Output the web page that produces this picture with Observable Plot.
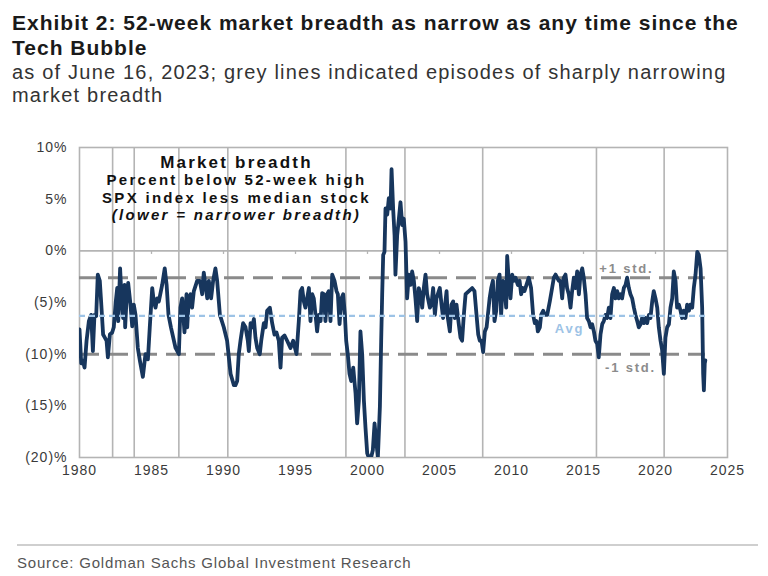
<!DOCTYPE html>
<html><head><meta charset="utf-8">
<script src="https://cdn.jsdelivr.net/npm/d3@7"></script>
<script src="https://cdn.jsdelivr.net/npm/@observablehq/plot@0.6"></script>
<style>
body{margin:0;background:#fff;width:768px;height:576px;position:relative;overflow:hidden;font-family:"Liberation Sans",Arial,sans-serif;}
#title{position:absolute;left:12px;top:10px;font-size:21px;font-weight:bold;line-height:25px;letter-spacing:1px;color:#1a1a1a;white-space:nowrap;}
#subtitle{position:absolute;left:12px;top:61px;font-size:20px;line-height:23px;letter-spacing:1.2px;color:#333;white-space:nowrap;}
#chart{position:absolute;left:0;top:130px;}
#rule{position:absolute;left:17px;top:544px;width:741px;height:0;border-top:2px solid #cfcfcf;}
#source{position:absolute;left:17px;top:554px;font-size:15px;letter-spacing:0.8px;color:#555;white-space:nowrap;}
#chart svg text{letter-spacing:1px;}
</style></head>
<body>
<div id="title">Exhibit 2: 52-week market breadth as narrow as any time since the<br>Tech Bubble</div>
<div id="subtitle">as of June 16, 2023; grey lines indicated episodes of sharply narrowing<br>market breadth</div>
<div id="chart"></div>
<div id="rule"></div>
<div id="source">Source: Goldman Sachs Global Investment Research</div>
<script>
// weekly-ish readings (decimal year, percent)
const years = [
1980.00,1980.12,1980.23,1980.35,1980.49,1980.65,1980.81,1980.93,1981.04,1981.16,1981.27,1981.41,1981.50,1981.64,1981.76,1981.88,1981.97,1982.11,1982.27,1982.38,1982.52,1982.62,1982.69,1982.82,1982.92,1983.03,1983.13,1983.17,1983.26,1983.38,1983.54,1983.66,1983.77,1983.89,1984.05,1984.19,1984.40,1984.58,1984.75,1984.88,1985.05,1985.16,1985.28,1985.39,1985.51,1985.74,1985.92,1986.05,1986.18,1986.35,1986.67,1986.90,1987.01,1987.13,1987.29,1987.43,1987.48,1987.59,1987.71,1987.82,1987.94,1988.17,1988.36,1988.52,1988.63,1988.87,1988.98,1989.14,1989.28,1989.44,1989.56,1989.75,1990.02,1990.25,1990.49,1990.72,
1990.83,1990.95,1991.06,1991.18,1991.36,1991.53,1991.69,1991.76,1991.88,1991.99,1992.11,1992.22,1992.34,1992.52,1992.62,1992.80,1992.92,1993.03,1993.22,1993.38,1993.54,1993.68,1993.84,1993.96,1994.07,1994.24,1994.42,1994.65,1994.84,1995.07,1995.23,1995.35,1995.46,1995.58,1995.69,1995.81,1995.93,1996.04,1996.16,1996.27,1996.39,1996.50,1996.62,1996.74,1996.85,1996.97,1997.08,1997.20,1997.31,1997.43,1997.55,1997.71,1997.85,1997.94,1998.06,1998.19,1998.31,1998.43,1998.52,1998.63,1998.75,1998.87,1999.01,1999.17,1999.28,1999.40,1999.51,1999.63,1999.75,1999.86,1999.98,2000.09,2000.25,2000.37,2000.49,2000.60,2000.72,2000.86,2000.95,2001.02,2001.09,2001.18,2001.25,2001.37,2001.48,2001.60,2001.67,2001.78,2001.88,2001.94,2002.06,2002.18,2002.29,2002.41,2002.52,2002.64,
2002.75,2002.87,2002.99,2003.10,2003.22,2003.33,2003.45,2003.56,2003.68,2003.80,2003.91,2004.03,2004.14,2004.33,2004.44,2004.56,2004.68,2004.79,2004.88,2005.02,2005.14,2005.25,2005.37,2005.49,2005.58,2005.72,2005.83,2005.95,2006.06,2006.18,2006.34,2006.46,2006.57,2006.69,2006.81,2007.04,2007.27,2007.43,2007.57,2007.69,2007.80,2007.92,2008.03,2008.15,2008.27,2008.36,2008.48,2008.59,2008.71,2008.82,2008.94,2009.05,2009.17,2009.28,2009.40,2009.51,2009.63,2009.70,2009.81,2009.93,2010.05,2010.16,2010.28,2010.44,2010.56,2010.67,2010.79,2010.90,2011.04,2011.20,2011.36,2011.50,2011.62,2011.74,2011.83,2011.97,2012.06,2012.20,2012.31,2012.48,2012.66,2012.82,2012.94,2013.06,2013.17,2013.29,2013.40,2013.52,2013.63,2013.75,2013.86,2013.98,2014.10,2014.21,2014.33,2014.44,2014.56,2014.68,2014.79,
2014.91,2015.02,2015.14,2015.25,2015.37,2015.49,2015.60,2015.72,2015.83,2015.95,2016.06,2016.18,2016.30,2016.41,2016.53,2016.64,2016.76,2016.87,2016.99,2017.11,2017.22,2017.34,2017.45,2017.57,2017.68,2017.80,2017.92,2018.03,2018.15,2018.26,2018.38,2018.50,2018.61,2018.73,2018.84,2018.96,2019.07,2019.19,2019.31,2019.42,2019.54,2019.65,2019.77,2019.88,2020.00,2020.12,2020.23,2020.35,2020.46,2020.58,2020.69,2020.81,2020.93,2021.04,2021.16,2021.27,2021.39,2021.50,2021.62,2021.74,2021.85,2021.97,2022.08,2022.20,2022.32,2022.43,2022.55,2022.66,2022.78,2022.90,2023.01,2023.13,2023.24,2023.31,2023.36,2023.42,2023.46
];
const breadth = [
-7.6,-10.9,-10.6,-11.3,-8.7,-6.8,-6.2,-9.7,-6.2,-6.3,-2.3,-2.9,-4.9,-8.1,-8.4,-8.7,-10.3,-8.1,-7.9,-7.4,-4.9,-3.6,-6.8,-1.7,-4.6,-6.5,-3.3,-7.4,-4.9,-3.1,-5.2,-7.3,-5.2,-6.2,-9.4,-10.6,-12.2,-10.0,-10.5,-7.4,-3.6,-4.9,-5.5,-4.6,-4.9,-3.3,-1.7,-3.3,-6.2,-7.4,-9.4,-10.0,-5.5,-4.6,-7.9,-4.2,-7.4,-4.6,-4.2,-5.5,-3.9,-2.9,-2.9,-4.2,-2.1,-4.6,-2.9,-4.6,-2.9,-1.7,-2.9,-6.2,-7.4,-8.7,-11.9,-13.0,
-13.0,-12.6,-10.0,-8.7,-7.0,-7.4,-8.7,-9.7,-7.0,-7.4,-6.6,-8.4,-9.4,-10.0,-8.7,-7.0,-7.4,-5.8,-5.5,-7.0,-8.1,-7.9,-8.7,-11.3,-8.4,-8.2,-8.7,-9.4,-8.7,-10.0,-6.8,-3.9,-3.6,-4.9,-5.5,-4.6,-3.6,-6.8,-4.2,-4.6,-6.2,-7.8,-6.2,-6.8,-4.1,-4.2,-6.8,-4.2,-3.9,-6.8,-2.3,-2.9,-3.9,-4.2,-7.1,-4.6,-4.2,-6.2,-8.7,-10.0,-11.9,-12.6,-11.3,-13.8,-16.7,-14.5,-7.8,-10.0,-14.5,-17.1,-19.6,-20.0,-20.0,-19.3,-16.7,-18.3,-20.0,-15.1,-8.7,-4.2,-0.4,-0.1,4.1,3.5,5.1,4.1,7.9,4.1,1.5,-2.3,1.5,3.1,4.7,2.5,3.1,0.9,
-4.6,-2.3,-3.3,-2.0,-2.9,-4.6,-6.8,-3.6,-4.2,-5.5,-3.6,-2.3,-4.2,-5.5,-5.2,-3.6,-6.2,-4.6,-4.2,-3.6,-5.2,-6.5,-5.5,-3.9,-6.5,-7.8,-5.2,-4.9,-6.5,-5.2,-7.1,-8.4,-8.7,-6.2,-4.2,-3.9,-3.6,-3.9,-6.2,-8.1,-8.7,-8.7,-9.8,-7.8,-7.4,-6.2,-4.6,-3.6,-2.9,-6.8,-5.8,-2.9,-2.3,-6.2,-2.9,-3.3,-5.5,-0.5,-2.9,-4.6,-2.3,-2.9,-2.6,-3.3,-2.9,-4.2,-3.6,-3.9,-3.3,-2.6,-3.6,-6.2,-7.0,-6.8,-7.8,-7.4,-6.2,-5.8,-6.2,-6.2,-4.9,-3.6,-2.6,-2.3,-2.6,-2.9,-2.9,-4.6,-2.6,-2.3,-3.6,-4.2,-5.5,-3.9,-2.6,-3.6,-2.0,-4.2,-2.3,
-1.7,-2.6,-4.2,-6.5,-6.8,-7.4,-7.1,-7.8,-8.7,-9.0,-10.3,-8.1,-7.1,-6.8,-6.2,-6.5,-5.5,-6.5,-4.2,-3.6,-4.6,-3.9,-4.6,-4.2,-4.6,-3.6,-3.3,-2.6,-3.6,-4.2,-4.6,-5.5,-6.2,-6.8,-7.4,-7.1,-6.5,-7.0,-6.5,-7.0,-6.2,-6.5,-4.9,-3.9,-4.6,-5.5,-7.4,-8.7,-9.6,-11.9,-8.4,-7.4,-7.1,-5.5,-4.6,-2.0,-2.9,-5.5,-5.2,-5.8,-6.5,-5.8,-6.5,-5.2,-5.8,-5.2,-5.5,-3.6,-2.3,-0.1,-0.4,-1.7,-5.5,-11.9,-13.5,-10.9,-10.6
];
const episodes = [1982.3, 1983.8, 1986.9, 1990.3, 1998.5, 2002.6, 2008.0, 2015.9, 2020.6];
const xTicks = [1980, 1985, 1990, 1995, 2000, 2005, 2010, 2015, 2020, 2025];
const yTicks = [10, 5, 0, -5, -10, -15, -20];
const refLevels = [-2.6, -6.3, -10.0];   // +1 std, average, -1 std
const refLabels = ["+1 std.", "Avg", "-1 std."];
const annotLines = ["Market breadth", "Percent below 52-week high", "SPX index less median stock", "(lower = narrower breadth)"];

const data = years.map((t, i) => ({t, v: breadth[i]}));
const tEnd = years[years.length - 1];
const tStart = years[0];

const chart = Plot.plot({
  width: 768, height: 360,
  marginTop: 17, marginBottom: 33, marginLeft: 79, marginRight: 41,
  style: {fontFamily: '"Liberation Sans", Arial, sans-serif', fontSize: "14px", color: "#3a3a3a", background: "white", overflow: "visible"},
  x: {domain: [1980, 2025], ticks: xTicks, tickFormat: d => String(d), tickSize: 0, tickPadding: 8, label: null},
  y: {domain: [-20, 10], ticks: yTicks, tickFormat: d => d < 0 ? `(${-d})%` : `${d}%`, tickSize: 0, tickPadding: 12, label: null},
  marks: [
    Plot.ruleX(episodes, {stroke: "#b4b4b4", strokeWidth: 1.6}),
    Plot.ruleY([0], {stroke: "#b4b4b4", strokeWidth: 1.6}),
    Plot.ruleX(xTicks.slice(1, -1), {y1: () => 0, y2: () => -0.35, stroke: "#b4b4b4", strokeWidth: 1.3}),
    Plot.frame({stroke: "#b4b4b4", strokeWidth: 1.6}),
    Plot.ruleY([refLevels[0], refLevels[2]], {x1: () => tStart, x2: () => tEnd, stroke: "#8a8a8a", strokeWidth: 3, strokeDasharray: "20,9"}),
    Plot.line(data, {x: "t", y: "v", stroke: "#17365d", strokeWidth: 3.8, strokeLinejoin: "round", clip: true}),
    Plot.ruleY([refLevels[1]], {x1: () => tStart, x2: () => tEnd, stroke: "#9dc3e6", strokeWidth: 2.2, strokeDasharray: "6,4"}),
    Plot.text([annotLines[0]], {x: () => 1990.9, y: () => 8.5, text: d => d, fontSize: 17, fontWeight: "bold", fill: "#111"}),
    Plot.text([annotLines[1], annotLines[2]], {x: () => 1990.9, y: (d, i) => [6.85, 5.05][i], text: d => d, fontSize: 15, fontWeight: "bold", fill: "#111"}),
    Plot.text([annotLines[3]], {x: () => 1990.9, y: () => 3.45, text: d => d, fontSize: 15, fontWeight: "bold", fontStyle: "italic", fill: "#111"}),
    Plot.text(refLabels, {x: (d, i) => [2016.1, 2013.0, 2016.5][i], y: (d, i) => [-1.75, -7.55, -11.3][i], text: d => d, textAnchor: "start", fontSize: 13, fontWeight: "bold", fill: (d, i) => i === 1 ? "#9dc3e6" : "#8c8c8c"})
  ]
});
// widen the in-chart annotation lettering to match the stretched original
d3.select(chart).selectAll("text").each(function() {
  const t = this.textContent;
  if (t === annotLines[0]) this.style.letterSpacing = "2.2px";
  else if (annotLines.includes(t)) this.style.letterSpacing = "2.3px";
  else if (refLabels.includes(t)) this.style.letterSpacing = "1.8px";
});
document.getElementById("chart").appendChild(chart);
</script>
</body></html>
